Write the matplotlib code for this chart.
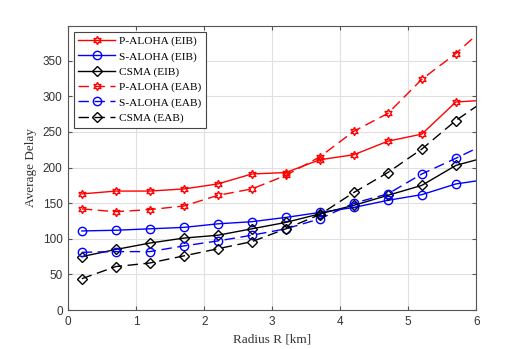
import numpy as np
import matplotlib
matplotlib.use('Agg')
import matplotlib.pyplot as plt

# 半径 (km)
radius = [0.2, 0.7, 1.2, 1.7, 2.2, 2.7, 3.2, 3.7, 4.2, 4.7, 5.2, 5.7, 6.2]

# 平均时延
p_aloha_eib = [163, 167, 167, 170, 177, 191, 193, 211, 218, 237, 247, 292, 295]
s_aloha_eib = [111, 112, 114, 116, 121, 124, 130, 137, 144, 154, 162, 177, 184]
csma_eib = [75, 85, 94, 101, 105, 114, 123, 135, 147, 161, 175, 203, 216]
p_aloha_eab = [142, 138, 141, 146, 161, 170, 189, 215, 251, 276, 324, 360, 403]
s_aloha_eab = [81, 82, 82, 90, 97, 105, 114, 128, 150, 163, 191, 213, 236]
csma_eab = [44, 61, 66, 76, 86, 96, 114, 134, 165, 193, 226, 266, 299]

labels = ['P-ALOHA (EIB)', 'S-ALOHA (EIB)', 'CSMA (EIB)',
          'P-ALOHA (EAB)', 'S-ALOHA (EAB)', 'CSMA (EAB)']

fig = plt.figure(figsize=(5.26, 3.49), dpi=100)
ax = fig.add_axes([0.1297, 0.1117, 0.7757, 0.8143])

star = (6, 1, 0)
dash = (0, (7.5, 4))
kw = dict(linewidth=1.0, markersize=6, markerfacecolor='none', markeredgewidth=1.0)
kd = dict(linewidth=1.0, markersize=5, markerfacecolor='none', markeredgewidth=1.0)

ax.plot(radius, p_aloha_eib, '-', color='#ff0000', marker=star, label=labels[0], **kw)
ax.plot(radius, s_aloha_eib, '-', color='#0000ff', marker='o', label=labels[1], **kw)
ax.plot(radius, csma_eib, '-', color='black', marker='D', label=labels[2], **kd)
ax.plot(radius, p_aloha_eab, color='#ff0000', linestyle=dash, marker=star, label=labels[3], **kw)
ax.plot(radius, s_aloha_eab, color='#0000ff', linestyle=dash, marker='o', label=labels[4], **kw)
ax.plot(radius, csma_eab, color='black', linestyle=dash, marker='D', label=labels[5], **kd)

ax.set_xlim(0, 6)
ax.set_ylim(0, 399)
ax.set_xticks(np.arange(0, 7, 1))
ax.set_yticks(np.arange(0, 351, 50))
ax.grid(True, color='#e0e0e0', linewidth=0.8)
ax.set_axisbelow(True)

for s in ax.spines.values():
    s.set_color('#555555')
    s.set_linewidth(0.8)
ax.tick_params(direction='in', top=True, right=True, length=3, width=0.8,
               color='#555555', labelsize=8.5, pad=4)
for t in ax.get_xticklabels() + ax.get_yticklabels():
    t.set_family('Liberation Sans')
    t.set_color('#333333')

ax.set_xlabel('Radius R [km]', family='Liberation Serif', fontsize=9.5, color='#333333')
ax.set_ylabel('Average Delay', family='Liberation Serif', fontsize=9.5, color='#333333')

leg = ax.legend(loc='upper left', prop={'family': 'Liberation Serif', 'size': 8.2},
                fancybox=False, framealpha=1, edgecolor='#444444',
                handlelength=3.2, borderaxespad=0.5, labelspacing=0.45,
                borderpad=0.4, handletextpad=0.4)
leg.get_frame().set_linewidth(0.8)

fig.savefig('out.png', dpi=100)
